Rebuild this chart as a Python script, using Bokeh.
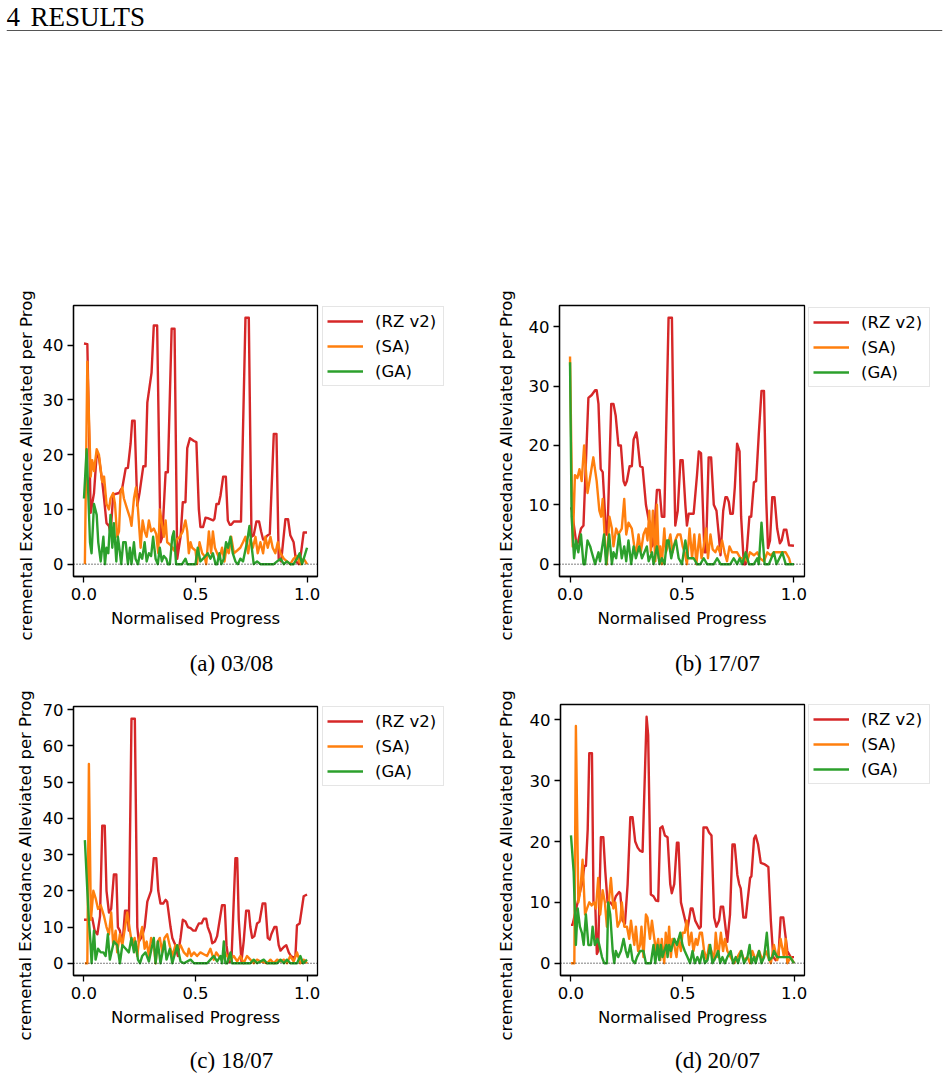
import numpy as np
from bokeh.plotting import figure
from bokeh.models import (Range1d, FixedTicker, PrintfTickFormatter, Span, Label,
                          Legend, LegendItem)
from bokeh.layouts import column, row
from bokeh.embed import file_html
from bokeh.resources import INLINE
from bokeh.core.validation import silence
from bokeh.core.validation.warnings import MISSING_RENDERERS

silence(MISSING_RENDERERS, True)

# ---------------------------------------------------------------- data
SERIES_NAMES = ["(RZ v2)", "(SA)", "(GA)"]
COLORS = ["#d62728", "#ff7f0e", "#2ca02c"]
X_TICKS = [0.0, 0.5, 1.0]
X_LABEL = "Normalised Progress"
Y_LABEL = "cremental Exceedance Alleviated per Prog"
CAPTIONS = ["(a) 03/08", "(b) 17/07", "(c) 18/07", "(d) 20/07"]
Y_TICKS = [[0, 10, 20, 30, 40], [0, 10, 20, 30, 40],
           [0, 10, 20, 30, 40, 50, 60, 70], [0, 10, 20, 30, 40]]

# (a) 03/08
a_rz = [(0.000, 40.3), (0.015, 40.2), (0.030, 9.4), (0.045, 13.0), (0.057, 20.2), (0.067, 19.5),
        (0.082, 15.0), (0.090, 12.0), (0.101, 7.5), (0.112, 7.0), (0.119, 5.5), (0.131, 12.7),
        (0.157, 13.0), (0.164, 13.5), (0.172, 14.0), (0.187, 17.5), (0.197, 17.6), (0.209, 22.0),
        (0.216, 26.2), (0.227, 26.2), (0.239, 10.7), (0.249, 13.0), (0.266, 17.9), (0.276, 17.9),
        (0.284, 29.5), (0.303, 35.0), (0.313, 43.6), (0.328, 43.6), (0.343, 4.0), (0.351, 5.0),
        (0.366, 16.8), (0.376, 16.8), (0.393, 43.0), (0.406, 43.0), (0.418, 1.0), (0.433, 5.0),
        (0.443, 11.3), (0.455, 11.3), (0.463, 21.2), (0.475, 23.0), (0.493, 22.5), (0.504, 22.3),
        (0.515, 10.0), (0.522, 6.8), (0.534, 6.8), (0.545, 8.5), (0.555, 8.4), (0.579, 8.0),
        (0.585, 8.3), (0.594, 11.0), (0.604, 11.0), (0.612, 12.5), (0.624, 16.0), (0.636, 16.0),
        (0.645, 8.0), (0.654, 7.2), (0.660, 7.2), (0.672, 7.8), (0.704, 7.8), (0.724, 45.0),
        (0.739, 45.0), (0.751, 5.0), (0.761, 5.3), (0.773, 7.8), (0.785, 7.8), (0.794, 6.0),
        (0.803, 4.5), (0.810, 4.5), (0.821, 5.2), (0.833, 5.5), (0.851, 23.8), (0.863, 23.8),
        (0.873, 1.0), (0.884, 0.5), (0.903, 8.2), (0.915, 8.2), (0.925, 5.3), (0.940, 4.0),
        (0.951, 0.5), (0.963, 0.0), (0.973, 2.0), (0.985, 5.8), (1.000, 5.8)]
a_sa = [(0.004, 0.0), (0.015, 37.0), (0.030, 16.0), (0.037, 19.0), (0.045, 17.0), (0.057, 21.0),
        (0.067, 20.0), (0.082, 15.0), (0.090, 16.0), (0.101, 11.0), (0.112, 10.0), (0.119, 12.0),
        (0.131, 13.0), (0.139, 11.0), (0.149, 5.0), (0.157, 6.0), (0.164, 13.0), (0.172, 14.0),
        (0.179, 12.0), (0.194, 10.0), (0.206, 8.5), (0.213, 7.0), (0.224, 12.0), (0.233, 14.0),
        (0.242, 10.0), (0.254, 3.0), (0.263, 8.0), (0.272, 6.0), (0.281, 5.0), (0.291, 8.0),
        (0.301, 6.0), (0.313, 6.5), (0.324, 5.5), (0.333, 2.0), (0.340, 10.0), (0.351, 7.0),
        (0.358, 5.0), (0.366, 8.0), (0.373, 4.0), (0.388, 3.5), (0.403, 2.5), (0.415, 4.5),
        (0.430, 5.0), (0.443, 6.0), (0.455, 8.0), (0.463, 6.0), (0.470, 2.0), (0.478, 4.0),
        (0.485, 3.0), (0.500, 2.5), (0.507, 0.0), (0.518, 4.0), (0.530, 2.0), (0.540, 1.5),
        (0.548, 0.0), (0.560, 6.0), (0.570, 2.0), (0.578, 6.0), (0.587, 3.0), (0.597, 2.0),
        (0.607, 1.0), (0.619, 3.0), (0.630, 0.5), (0.639, 3.0), (0.649, 2.0), (0.660, 5.0),
        (0.672, 2.0), (0.687, 2.5), (0.701, 3.0), (0.713, 4.0), (0.724, 5.0), (0.736, 2.0),
        (0.746, 4.5), (0.757, 3.0), (0.769, 5.0), (0.779, 2.0), (0.791, 4.0), (0.803, 2.0),
        (0.813, 5.0), (0.824, 3.0), (0.836, 5.0), (0.846, 3.0), (0.858, 2.0), (0.869, 4.0),
        (0.881, 2.0), (0.896, 1.0), (0.910, 0.5), (0.925, 0.0), (0.940, 1.0), (0.955, 1.5),
        (0.970, 0.0), (0.985, 1.0), (1.000, 0.0)]
a_ga = [(0.000, 12.0), (0.012, 21.0), (0.027, 4.0), (0.034, 2.0), (0.045, 11.0), (0.057, 9.0),
        (0.064, 4.0), (0.075, 0.5), (0.087, 5.0), (0.094, 0.0), (0.101, 3.0), (0.109, 2.0),
        (0.119, 9.0), (0.127, 3.0), (0.134, 7.5), (0.145, 0.5), (0.152, 5.0), (0.160, 2.5),
        (0.167, 0.0), (0.176, 4.0), (0.187, 4.0), (0.197, 0.0), (0.206, 3.0), (0.213, 0.0),
        (0.224, 4.0), (0.231, 1.0), (0.242, 0.0), (0.251, 2.0), (0.261, 1.0), (0.272, 4.0),
        (0.281, 0.5), (0.291, 2.0), (0.301, 1.5), (0.310, 5.0), (0.321, 1.0), (0.331, 0.0),
        (0.340, 3.0), (0.349, 0.5), (0.358, 1.5), (0.369, 1.0), (0.376, 0.0), (0.385, 0.0),
        (0.396, 5.0), (0.403, 6.0), (0.413, 0.0), (0.425, 0.0), (0.440, 0.0), (0.455, 1.0),
        (0.463, 0.0), (0.485, 0.0), (0.500, 0.0), (0.510, 3.0), (0.522, 0.5), (0.534, 1.0),
        (0.545, 1.5), (0.555, 2.0), (0.567, 1.0), (0.578, 2.0), (0.590, 0.0), (0.597, 0.0),
        (0.607, 2.0), (0.616, 0.0), (0.627, 1.0), (0.637, 4.0), (0.646, 3.0), (0.657, 5.0),
        (0.667, 2.0), (0.679, 0.5), (0.690, 0.0), (0.701, 1.0), (0.713, 0.5), (0.731, 4.0),
        (0.742, 7.0), (0.751, 3.5), (0.761, 0.0), (0.776, 0.5), (0.791, 0.0), (0.813, 0.0),
        (0.851, 0.0), (0.866, 0.5), (0.881, 1.0), (0.896, 0.0), (0.910, 0.5), (0.925, 0.0),
        (0.940, 0.0), (0.955, 1.0), (0.967, 2.0), (0.978, 0.0), (1.000, 3.0)]

# (b) 17/07
b_rz = [(0.000, 9.4), (0.007, 9.4), (0.030, 3.0), (0.037, 4.0), (0.049, 6.0), (0.060, 6.5),
        (0.082, 28.0), (0.097, 28.5), (0.112, 29.3), (0.119, 29.3), (0.127, 27.0), (0.137, 16.0),
        (0.146, 15.5), (0.161, 5.0), (0.167, 5.0), (0.184, 27.0), (0.194, 27.0), (0.204, 25.0),
        (0.216, 20.0), (0.227, 20.0), (0.239, 14.0), (0.246, 13.3), (0.254, 14.0), (0.266, 16.5),
        (0.276, 16.5), (0.284, 21.0), (0.296, 22.2), (0.301, 21.0), (0.313, 16.5), (0.324, 16.3),
        (0.339, 10.0), (0.351, 7.5), (0.358, 7.0), (0.366, 3.0), (0.373, 3.5), (0.388, 12.5),
        (0.400, 12.5), (0.410, 8.0), (0.421, 8.0), (0.440, 41.5), (0.455, 41.5), (0.463, 20.0),
        (0.470, 6.5), (0.481, 9.0), (0.493, 17.5), (0.503, 17.5), (0.515, 10.0), (0.522, 6.5),
        (0.530, 8.5), (0.552, 8.5), (0.567, 15.0), (0.575, 19.0), (0.585, 18.7), (0.600, 2.0),
        (0.607, 2.0), (0.619, 18.0), (0.630, 18.0), (0.642, 10.0), (0.654, 9.0), (0.664, 5.0),
        (0.672, 1.5), (0.684, 9.0), (0.694, 11.3), (0.701, 11.3), (0.709, 10.5), (0.716, 8.5),
        (0.727, 8.5), (0.736, 13.0), (0.746, 20.3), (0.757, 19.0), (0.764, 8.0), (0.776, 0.0),
        (0.784, 0.0), (0.791, 3.0), (0.801, 8.0), (0.809, 8.0), (0.821, 13.8), (0.831, 14.0),
        (0.843, 22.0), (0.855, 29.2), (0.866, 29.2), (0.876, 11.0), (0.884, 2.7), (0.893, 4.0),
        (0.903, 11.3), (0.913, 11.3), (0.925, 6.0), (0.937, 3.5), (0.945, 4.0), (0.955, 5.8),
        (0.966, 5.8), (0.978, 3.2), (1.000, 3.1)]
b_sa = [(0.000, 35.0), (0.012, 3.0), (0.022, 15.0), (0.033, 14.5), (0.042, 16.0), (0.052, 14.0),
        (0.063, 20.0), (0.078, 12.0), (0.087, 14.0), (0.104, 18.0), (0.119, 14.0), (0.131, 9.0),
        (0.139, 8.0), (0.146, 11.0), (0.157, 3.0), (0.164, 0.0), (0.176, 8.0), (0.187, 6.0),
        (0.194, 3.0), (0.206, 6.0), (0.216, 5.0), (0.231, 6.0), (0.242, 11.0), (0.251, 5.0),
        (0.261, 7.0), (0.276, 6.0), (0.287, 3.0), (0.296, 2.0), (0.306, 5.0), (0.316, 2.0),
        (0.328, 5.0), (0.339, 6.0), (0.346, 4.0), (0.354, 9.0), (0.361, 2.0), (0.370, 9.0),
        (0.381, 0.5), (0.388, 10.0), (0.396, 1.0), (0.403, 3.0), (0.410, 0.0), (0.421, 6.0),
        (0.428, 2.0), (0.436, 3.0), (0.448, 5.0), (0.458, 2.0), (0.470, 4.0), (0.481, 5.0),
        (0.493, 5.0), (0.503, 3.0), (0.512, 2.0), (0.522, 0.0), (0.534, 6.0), (0.545, 1.0),
        (0.555, 5.0), (0.564, 0.0), (0.578, 5.0), (0.587, 1.0), (0.597, 3.0), (0.607, 6.0),
        (0.616, 1.0), (0.627, 5.0), (0.637, 2.5), (0.649, 2.0), (0.660, 3.0), (0.669, 2.0),
        (0.679, 4.0), (0.690, 2.0), (0.701, 0.5), (0.712, 3.0), (0.724, 2.0), (0.734, 2.0),
        (0.746, 2.0), (0.761, 1.0), (0.776, 1.0), (0.791, 0.5), (0.803, 2.0), (0.821, 1.5),
        (0.836, 2.0), (0.848, 1.0), (0.866, 0.5), (0.881, 2.0), (0.896, 1.5), (0.910, 2.0),
        (0.940, 2.0), (0.963, 2.0), (0.978, 1.0), (0.985, 0.0)]
b_ga = [(0.000, 34.0), (0.007, 8.0), (0.018, 1.0), (0.027, 4.0), (0.037, 2.0), (0.049, 5.0),
        (0.060, 0.0), (0.067, 0.0), (0.078, 4.0), (0.090, 3.0), (0.097, 2.0), (0.112, 0.0),
        (0.127, 2.0), (0.134, 0.5), (0.152, 5.0), (0.161, 0.0), (0.175, 5.0), (0.187, 0.0),
        (0.194, 2.0), (0.206, 1.0), (0.219, 5.0), (0.231, 1.0), (0.242, 3.0), (0.251, 0.5),
        (0.261, 4.0), (0.273, 0.0), (0.284, 3.0), (0.294, 1.0), (0.309, 3.0), (0.321, 1.0),
        (0.343, 3.0), (0.351, 0.5), (0.366, 2.0), (0.373, 0.0), (0.388, 3.0), (0.400, 0.0),
        (0.410, 1.0), (0.422, 0.0), (0.433, 4.0), (0.440, 4.0), (0.452, 1.0), (0.463, 3.0),
        (0.473, 4.0), (0.485, 1.0), (0.500, 0.0), (0.515, 4.0), (0.527, 1.0), (0.537, 1.0),
        (0.552, 1.0), (0.567, 0.0), (0.582, 0.0), (0.597, 1.0), (0.612, 0.0), (0.642, 0.0),
        (0.657, 1.0), (0.672, 0.0), (0.716, 0.0), (0.731, 1.0), (0.746, 0.0), (0.758, 1.0),
        (0.769, 0.0), (0.784, 2.0), (0.799, 0.0), (0.821, 0.0), (0.836, 1.0), (0.843, 0.0),
        (0.855, 7.0), (0.869, 0.0), (0.888, 0.0), (0.910, 2.0), (0.922, 0.0), (0.948, 2.0),
        (0.963, 0.0), (1.000, 0.0)]

# (c) 18/07
c_rz = [(0.000, 12.0), (0.022, 12.0), (0.037, 12.5), (0.048, 9.0), (0.060, 8.0), (0.072, 13.0),
        (0.082, 38.0), (0.093, 38.0), (0.101, 20.0), (0.112, 14.0), (0.122, 15.0), (0.134, 24.5),
        (0.145, 24.5), (0.152, 10.0), (0.161, 9.0), (0.169, 6.0), (0.176, 8.0), (0.184, 14.5),
        (0.194, 14.5), (0.201, 9.0), (0.213, 67.5), (0.228, 67.5), (0.239, 10.0), (0.246, 6.0),
        (0.261, 7.5), (0.272, 10.0), (0.284, 17.0), (0.301, 20.0), (0.313, 29.0), (0.324, 29.0),
        (0.333, 20.0), (0.343, 16.5), (0.355, 16.5), (0.366, 17.5), (0.373, 17.0), (0.388, 10.0),
        (0.396, 7.0), (0.410, 5.0), (0.421, 2.0), (0.433, 7.0), (0.443, 12.0), (0.455, 11.5),
        (0.466, 10.0), (0.478, 9.7), (0.490, 9.0), (0.500, 9.0), (0.507, 10.0), (0.515, 11.0),
        (0.527, 11.0), (0.537, 12.3), (0.548, 12.3), (0.555, 10.0), (0.567, 8.0), (0.575, 5.5),
        (0.587, 6.0), (0.597, 7.5), (0.619, 16.0), (0.631, 16.0), (0.639, 5.0), (0.649, 0.3),
        (0.661, 0.5), (0.679, 29.0), (0.687, 29.0), (0.694, 12.0), (0.706, 0.5), (0.716, 6.0),
        (0.727, 14.5), (0.739, 14.5), (0.746, 10.0), (0.754, 7.0), (0.764, 7.5), (0.776, 11.0),
        (0.787, 11.5), (0.801, 16.5), (0.813, 16.5), (0.824, 7.0), (0.833, 6.5), (0.840, 8.0),
        (0.854, 10.0), (0.863, 10.0), (0.873, 5.0), (0.881, 3.5), (0.896, 4.5), (0.907, 5.0),
        (0.918, 3.0), (0.928, 2.0), (0.940, 1.5), (0.948, 2.0), (0.955, 10.5), (0.967, 11.0),
        (0.985, 18.5), (1.000, 19.0)]
c_sa = [(0.004, 0.0), (0.015, 0.0), (0.022, 55.0), (0.031, 12.0), (0.042, 20.0), (0.052, 18.0),
        (0.063, 15.0), (0.075, 16.0), (0.090, 13.0), (0.101, 10.0), (0.112, 8.0), (0.122, 14.0),
        (0.131, 5.0), (0.142, 9.0), (0.149, 3.0), (0.161, 8.0), (0.172, 5.0), (0.194, 14.0),
        (0.206, 9.0), (0.216, 5.0), (0.227, 7.0), (0.239, 2.0), (0.246, 6.0), (0.261, 10.0),
        (0.272, 4.0), (0.281, 6.0), (0.291, 2.0), (0.301, 7.0), (0.313, 5.0), (0.321, 0.0),
        (0.331, 6.0), (0.340, 7.0), (0.351, 3.0), (0.361, 7.0), (0.373, 8.0), (0.384, 5.0),
        (0.396, 2.0), (0.410, 5.0), (0.421, 4.0), (0.433, 5.0), (0.448, 3.0), (0.463, 2.0),
        (0.470, 4.0), (0.481, 2.0), (0.493, 3.0), (0.507, 2.0), (0.522, 3.0), (0.537, 2.5),
        (0.552, 2.0), (0.567, 4.0), (0.582, 1.0), (0.593, 3.0), (0.604, 2.0), (0.619, 1.0),
        (0.631, 3.0), (0.642, 2.0), (0.657, 1.0), (0.672, 2.0), (0.687, 0.5), (0.701, 2.0),
        (0.716, 0.0), (0.731, 2.0), (0.746, 1.0), (0.761, 0.0), (0.776, 1.0), (0.791, 0.5),
        (0.821, 0.0), (0.836, 1.0), (0.851, 0.0), (0.866, 1.0), (0.881, 0.5), (0.896, 1.0),
        (0.910, 0.0), (0.925, 2.0), (0.940, 0.5), (0.955, 3.0), (0.970, 0.0), (0.985, 1.0),
        (1.000, 0.0)]
c_ga = [(0.004, 34.0), (0.015, 20.0), (0.022, 12.0), (0.030, 5.0), (0.034, 0.0), (0.045, 9.0),
        (0.052, 1.0), (0.063, 4.0), (0.075, 3.0), (0.087, 3.0), (0.097, 2.0), (0.107, 8.0),
        (0.116, 1.0), (0.134, 6.0), (0.149, 5.0), (0.161, 0.0), (0.172, 5.0), (0.187, 4.0),
        (0.201, 3.0), (0.213, 7.0), (0.224, 3.0), (0.231, 6.0), (0.242, 1.0), (0.251, 0.0),
        (0.261, 2.0), (0.276, 3.0), (0.291, 0.5), (0.313, 7.0), (0.321, 0.0), (0.331, 6.0),
        (0.343, 0.0), (0.361, 6.0), (0.370, 1.0), (0.385, 4.0), (0.396, 0.0), (0.418, 5.0),
        (0.433, 0.5), (0.448, 0.0), (0.478, 1.0), (0.493, 0.0), (0.522, 0.0), (0.552, 0.0),
        (0.567, 1.0), (0.582, 2.0), (0.597, 0.5), (0.612, 2.0), (0.619, 0.0), (0.627, 6.0),
        (0.634, 0.0), (0.642, 0.0), (0.657, 3.0), (0.664, 0.0), (0.701, 0.0), (0.746, 0.0),
        (0.761, 1.0), (0.776, 0.0), (0.806, 1.0), (0.821, 0.0), (0.866, 0.0), (0.881, 1.0),
        (0.896, 0.0), (0.910, 1.0), (0.925, 0.0), (0.955, 0.0), (0.970, 2.0), (0.982, 0.0),
        (1.000, 1.0)]

# (d) 20/07
d_rz = [(0.000, 6.3), (0.007, 6.3), (0.030, 10.0), (0.042, 12.0), (0.049, 13.0), (0.060, 16.0),
        (0.067, 16.0), (0.075, 22.0), (0.082, 34.5), (0.094, 34.5), (0.101, 10.0), (0.109, 9.5),
        (0.116, 1.5), (0.122, 2.0), (0.134, 20.7), (0.145, 20.7), (0.154, 15.0), (0.164, 10.0),
        (0.176, 10.0), (0.187, 9.5), (0.201, 11.0), (0.216, 11.7), (0.221, 11.5), (0.231, 7.0),
        (0.242, 6.5), (0.254, 13.0), (0.266, 24.0), (0.276, 24.0), (0.288, 20.0), (0.299, 19.0),
        (0.309, 18.5), (0.321, 18.3), (0.328, 27.0), (0.339, 40.5), (0.346, 37.5), (0.358, 11.3),
        (0.370, 11.0), (0.381, 10.3), (0.391, 10.2), (0.400, 22.2), (0.410, 22.5), (0.421, 21.0),
        (0.433, 20.7), (0.445, 13.0), (0.452, 11.5), (0.463, 13.0), (0.475, 19.8), (0.482, 19.8),
        (0.493, 10.0), (0.522, 5.5), (0.537, 9.0), (0.545, 9.0), (0.557, 7.0), (0.575, 5.7),
        (0.582, 6.0), (0.594, 22.3), (0.609, 22.3), (0.619, 21.5), (0.630, 21.0), (0.642, 7.5),
        (0.652, 6.0), (0.664, 7.0), (0.672, 9.3), (0.682, 9.3), (0.694, 5.5), (0.701, 3.5),
        (0.713, 8.0), (0.724, 19.5), (0.734, 19.5), (0.746, 14.5), (0.754, 13.0), (0.761, 12.3),
        (0.773, 7.5), (0.784, 7.5), (0.791, 10.0), (0.803, 14.0), (0.809, 14.3), (0.821, 20.5),
        (0.828, 21.0), (0.839, 19.5), (0.851, 16.5), (0.866, 16.3), (0.878, 16.0), (0.885, 15.8),
        (0.896, 7.0), (0.907, 1.0), (0.918, 0.5), (0.930, 1.0), (0.940, 7.5), (0.952, 7.5),
        (0.960, 5.0), (0.970, 2.0), (0.985, 1.0), (1.000, 1.0)]
d_sa = [(0.000, 0.0), (0.015, 0.0), (0.022, 39.0), (0.033, 10.0), (0.042, 12.0), (0.052, 17.0),
        (0.063, 8.0), (0.072, 9.0), (0.082, 10.0), (0.093, 9.5), (0.104, 10.0), (0.112, 9.0),
        (0.122, 14.0), (0.131, 8.0), (0.142, 12.0), (0.152, 10.0), (0.161, 6.0), (0.167, 9.0),
        (0.179, 14.0), (0.190, 9.0), (0.199, 10.0), (0.209, 6.0), (0.221, 7.0), (0.228, 10.0),
        (0.239, 6.0), (0.251, 6.0), (0.261, 4.0), (0.269, 7.0), (0.276, 5.0), (0.284, 3.0),
        (0.291, 6.0), (0.301, 2.0), (0.310, 3.0), (0.316, 6.0), (0.325, 1.0), (0.336, 8.0),
        (0.343, 7.5), (0.354, 4.0), (0.363, 7.0), (0.370, 5.0), (0.381, 2.0), (0.391, 4.0),
        (0.400, 0.5), (0.407, 4.0), (0.418, 0.0), (0.425, 5.0), (0.433, 2.0), (0.440, 6.0),
        (0.448, 1.0), (0.455, 4.0), (0.463, 3.0), (0.473, 1.0), (0.482, 4.0), (0.493, 2.0),
        (0.500, 5.0), (0.510, 5.0), (0.519, 7.0), (0.530, 3.0), (0.540, 5.0), (0.549, 2.0),
        (0.560, 4.0), (0.567, 3.0), (0.578, 5.0), (0.587, 5.0), (0.597, 2.0), (0.609, 0.5),
        (0.619, 3.0), (0.630, 2.0), (0.642, 0.5), (0.649, 5.0), (0.660, 1.0), (0.672, 5.0),
        (0.682, 2.0), (0.690, 4.0), (0.701, 2.0), (0.716, 1.0), (0.731, 0.0), (0.746, 1.0),
        (0.761, 2.0), (0.776, 0.5), (0.791, 1.0), (0.803, 0.0), (0.813, 2.0), (0.828, 0.5),
        (0.843, 2.0), (0.858, 0.5), (0.873, 2.0), (0.896, 0.0), (0.910, 3.0), (0.925, 0.5),
        (0.940, 4.0), (0.955, 1.0), (0.963, 4.0), (0.970, 0.0), (0.985, 1.0), (1.000, 0.0)]
d_ga = [(0.000, 21.0), (0.012, 15.0), (0.022, 3.0), (0.030, 9.0), (0.040, 6.0), (0.049, 5.0),
        (0.057, 3.0), (0.067, 8.0), (0.078, 3.0), (0.090, 3.0), (0.097, 6.0), (0.107, 3.0),
        (0.119, 4.0), (0.127, 3.0), (0.139, 1.0), (0.149, 0.0), (0.161, 0.0), (0.167, 10.0),
        (0.176, 8.0), (0.187, 2.0), (0.194, 0.0), (0.201, 2.0), (0.212, 1.0), (0.224, 2.0),
        (0.236, 4.0), (0.246, 2.0), (0.254, 1.0), (0.266, 3.0), (0.276, 0.5), (0.287, 0.0),
        (0.296, 1.0), (0.310, 2.0), (0.325, 2.0), (0.336, 0.0), (0.358, 0.0), (0.370, 3.0),
        (0.378, 0.0), (0.388, 3.0), (0.396, 0.5), (0.403, 3.0), (0.410, 1.0), (0.418, 2.0),
        (0.428, 3.0), (0.433, 1.0), (0.440, 3.0), (0.448, 2.0), (0.463, 4.0), (0.475, 3.0),
        (0.490, 5.0), (0.500, 3.0), (0.510, 2.0), (0.522, 1.0), (0.534, 0.0), (0.545, 2.0),
        (0.555, 0.0), (0.567, 1.0), (0.578, 0.0), (0.590, 2.0), (0.600, 0.0), (0.612, 0.5),
        (0.624, 3.0), (0.634, 0.0), (0.649, 1.0), (0.660, 2.0), (0.669, 0.0), (0.679, 1.0),
        (0.690, 0.0), (0.701, 1.0), (0.716, 2.0), (0.727, 0.0), (0.739, 1.0), (0.749, 0.0),
        (0.764, 2.0), (0.776, 0.0), (0.791, 1.0), (0.801, 3.0), (0.809, 0.0), (0.821, 1.0),
        (0.828, 0.0), (0.843, 2.0), (0.854, 0.0), (0.866, 1.0), (0.878, 5.0), (0.888, 0.5),
        (0.903, 1.0), (0.910, 2.0), (0.925, 1.0), (0.955, 1.0), (0.982, 1.0), (1.000, 0.0)]

PANEL_SERIES = [(a_rz, a_sa, a_ga), (b_rz, b_sa, b_ga), (c_rz, c_sa, c_ga), (d_rz, d_sa, d_ga)]

# ---------------------------------------------------------------- styling
SANS = "DejaVu Sans"
SANS_SIZE = "16.5px"
SERIF = "Liberation Serif"
LINE_W = 2.4

# plot canvases: width, height, frame left, frame width, frame top, frame height
PANEL_GEOMS = [
    dict(W=285, H=360, left=37, fw=244, top=20, fh=271),
    dict(W=291, H=360, left=43, fw=245, top=20, fh=271),
    dict(W=285, H=365, left=37, fw=244, top=26, fh=269),
    dict(W=291, H=365, left=44, fw=244, top=24, fh=271),
]
# strips carrying the rotated y-axis title: width, height, text centre x, text start from bottom
YLAB_GEOMS = [
    dict(W=36, H=360, x=26, y=5),
    dict(W=42, H=360, x=32, y=5),
    dict(W=36, H=365, x=25, y=5),
    dict(W=42, H=365, x=32, y=5),
]
# strips carrying the legend box: width, height, box left, box top
LEGEND_GEOMS = [
    dict(W=153, H=360, left=1, top=21),
    dict(W=141, H=360, left=1, top=22),
    dict(W=153, H=365, left=1, top=26),
    dict(W=141, H=365, left=1, top=24),
]


def unaligned(f):
    f.frame_align = False
    return f


def text_canvas(width, height, pad_left=0, pad_right=0, pad_top=0):
    """An axis-free figure whose data units are pixels, used for page text."""
    f = figure(width=width, height=height, output_backend="svg", toolbar_location=None,
               x_range=Range1d(0, width - pad_left - pad_right), y_range=Range1d(0, height - pad_top),
               x_axis_location=None, y_axis_location=None,
               min_border_left=pad_left, min_border_right=pad_right,
               min_border_top=pad_top, min_border_bottom=0)
    f.outline_line_color = None
    f.background_fill_color = "white"
    f.border_fill_color = "white"
    f.grid.visible = False
    return unaligned(f)


def split(points):
    return [pt[0] for pt in points], [pt[1] for pt in points]


def make_panel(series, yticks, g):
    ymax = max(max(v for _, v in s) for s in series)
    pad = 0.05 * ymax
    p = figure(width=g["W"], height=g["H"], output_backend="svg", toolbar_location=None,
               x_range=Range1d(-0.047, 1.047), y_range=Range1d(-pad, ymax + pad),
               min_border_left=g["left"], min_border_right=g["W"] - g["left"] - g["fw"],
               min_border_top=g["top"], min_border_bottom=g["H"] - g["top"] - g["fh"])
    unaligned(p)
    p.background_fill_color = "white"
    p.border_fill_color = "white"
    p.grid.visible = False
    p.outline_line_color = "black"
    p.outline_line_width = 1.3
    p.outline_line_alpha = 1.0

    for ax in (p.xaxis[0], p.yaxis[0]):
        ax.axis_line_color = "black"
        ax.axis_line_width = 1.3
        ax.major_tick_line_color = "black"
        ax.major_tick_line_width = 1.3
        ax.major_tick_out = 6
        ax.major_tick_in = 0
        ax.minor_tick_line_color = None
        ax.major_label_text_font = SANS
        ax.major_label_text_font_size = SANS_SIZE
        ax.major_label_text_color = "black"

    p.xaxis.ticker = FixedTicker(ticks=X_TICKS)
    p.xaxis.formatter = PrintfTickFormatter(format="%.1f")
    p.xaxis.axis_label = X_LABEL
    p.xaxis.axis_label_text_font = SANS
    p.xaxis.axis_label_text_font_size = SANS_SIZE
    p.xaxis.axis_label_text_font_style = "normal"
    p.xaxis.axis_label_text_color = "black"
    p.xaxis.axis_label_standoff = 6
    p.yaxis.ticker = FixedTicker(ticks=yticks)
    p.yaxis.major_label_standoff = 4

    for pts, color in zip(series, COLORS):
        xs, ys = split(pts)
        p.line(xs, ys, line_color=color, line_width=LINE_W, line_join="round")

    p.add_layout(Span(location=0, dimension="width", line_color="black",
                      line_width=1.0, line_dash="1 2"))
    return p


def make_legend(g):
    """Legend box beside a panel; its keys are line renderers styled like the panel's series
    (each holds a single undefined point, so nothing is drawn in the strip itself)."""
    f = text_canvas(g["W"], g["H"], pad_left=g["left"], pad_top=g["top"])
    keys = [f.line([np.nan], [np.nan], line_color=c, line_width=LINE_W) for c in COLORS]
    legend = Legend(items=[LegendItem(label=n, renderers=[r], index=0)
                           for n, r in zip(SERIES_NAMES, keys)],
                    location="top_left", orientation="vertical", margin=0, padding=4, spacing=5,
                    glyph_width=36, glyph_height=20, label_height=20, label_width=64,
                    label_standoff=12, label_text_font=SANS, label_text_font_size=SANS_SIZE,
                    label_text_color="black", border_line_color="#cccccc", border_line_width=1.2,
                    background_fill_color="white", background_fill_alpha=0.8)
    f.add_layout(legend)
    return f


def make_ylabel(g):
    f = text_canvas(g["W"], g["H"])
    f.add_layout(Label(x=g["x"], y=g["y"], text=Y_LABEL, angle=np.pi / 2,
                       text_align="left", text_baseline="middle",
                       text_font=SANS, text_font_size=SANS_SIZE, text_color="black"))
    return f


def make_captions(height, centre_y, texts):
    f = text_canvas(948, height)
    for cx, t in zip((231, 717), texts):
        f.add_layout(Label(x=cx, y=height - centre_y, text=t, text_align="center",
                           text_baseline="middle", text_font=SERIF, text_font_size="23px",
                           text_color="black"))
    return f


# ---------------------------------------------------------------- page header
header = text_canvas(948, 285, pad_left=6, pad_right=6)
header.add_layout(Label(x=0, y=285 - 16, text="4", text_font=SERIF, text_font_size="27px",
                        text_color="black", text_baseline="middle"))
header.add_layout(Label(x=24, y=285 - 16, text="RESULTS", text_font=SERIF, text_font_size="27px",
                        text_color="black", text_baseline="middle"))
header.add_layout(Span(location=285 - 30, dimension="width", line_color="#555555", line_width=1.2))

panels = [make_panel(s, t, g) for s, t, g in zip(PANEL_SERIES, Y_TICKS, PANEL_GEOMS)]
ylabels = [make_ylabel(g) for g in YLAB_GEOMS]
legends = [make_legend(g) for g in LEGEND_GEOMS]

page = column(
    header,
    row(ylabels[0], panels[0], legends[0], ylabels[1], panels[1], legends[1]),
    make_captions(35, 18, CAPTIONS[:2]),
    row(ylabels[2], panels[2], legends[2], ylabels[3], panels[3], legends[3]),
    make_captions(35, 15, CAPTIONS[2:]),
)

with open("out.html", "w") as f:
    f.write(file_html(page, INLINE))
